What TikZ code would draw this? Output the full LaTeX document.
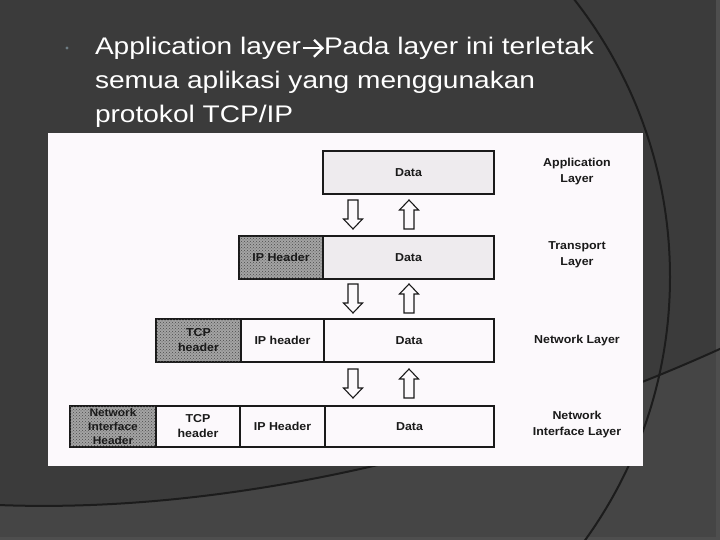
\documentclass[tikz,border=0pt]{standalone}
\usepackage{fontspec}
\setmainfont{Liberation Sans}
\newfontfamily\titlefont[FakeStretch=1.17]{Liberation Sans}
\newfontfamily\diafont[FakeStretch=1.08]{Liberation Sans}
\usetikzlibrary{patterns}
\definecolor{bg}{HTML}{3B3B3B}
\definecolor{bglow}{HTML}{454545}
\definecolor{edgec}{HTML}{4E4E4E}
\definecolor{arcc}{HTML}{1C1C1C}
\definecolor{paper}{HTML}{FCF9FC}
\definecolor{ink}{HTML}{1A1A1A}
\definecolor{hatchc}{HTML}{A4A4A4}
\definecolor{grayfill}{HTML}{EEEBEE}
\definecolor{bulletc}{HTML}{6E7C84}
\tikzset{
  cell/.style={draw=ink, line width=1.2pt, inner sep=0pt, outer sep=0pt, anchor=north west,
    minimum height=43pt, align=center, text=ink,
    font=\diafont\bfseries\fontsize{11.5}{15}\selectfont},
  plaincell/.style={cell, fill=paper},
  graycell/.style={cell, fill=grayfill},
  hatchcell/.style={cell, fill=hatchc, postaction={pattern=crosshatch dots, pattern color=black!70}},
  layerlabel/.style={align=center, text=ink, inner sep=0pt,
    font=\diafont\bfseries\fontsize{11.5}{16}\selectfont},
  titleline/.style={anchor=base west, inner sep=0pt, outer sep=0pt, text=white,
    font=\titlefont\fontsize{24}{33.5}\selectfont},
  titlearrow/.style={draw=white, line width=2.2pt, line cap=butt, line join=miter},
  flowarrow/.style={draw=ink, line width=1.1pt, fill=paper, line join=miter}
}
\newcommand\arrdown[3]{% center x, top, bottom
  \draw[flowarrow] (#1-5,#2) -- (#1+5,#2) -- (#1+5,#3-10) -- (#1+9.5,#3-10) -- (#1,#3)
    -- (#1-9.5,#3-10) -- (#1-5,#3-10) -- cycle;}
\newcommand\arrup[3]{% center x, top, bottom
  \draw[flowarrow] (#1-5,#3) -- (#1+5,#3) -- (#1+5,#2+10) -- (#1+9.5,#2+10) -- (#1,#2)
    -- (#1-9.5,#2+10) -- (#1-5,#2+10) -- cycle;}
\begin{document}
\begin{tikzpicture}[x=1pt,y=-1pt]
\useasboundingbox (0,0) rectangle (720,540);
\clip (0,0) rectangle (720,540);
% background
\fill[bg] (0,0) rectangle (720,540);
\fill[bglow] (-2,505) .. controls (250,515) and (520,440) .. (722,348) -- (722,542) -- (-2,542) -- cycle;
\fill[edgec] (716,0) rectangle (720,540);
\fill[edgec] (0,537) rectangle (720,540);
\draw[arcc, line width=2pt] (-2,505) .. controls (250,515) and (520,440) .. (722,348);
\draw[arcc, line width=2pt] (220,277) circle[radius=450pt];
% title
\fill[bulletc] (67,48) circle[radius=1.6pt];
\node[titleline] (t1a) at (95,55) {Application layer};
\node[titleline] (t1b) at (324,55) {Pada layer ini terletak};
\coordinate (ta) at ([shift={(1.5,-6.7)}]t1a.base east);
\coordinate (tb) at ([shift={(-1.5,-6.7)}]t1b.base west);
\draw[titlearrow] (ta) -- (tb);
\draw[titlearrow] ([shift={(-8.5,-8.5)}]tb) -- (tb) -- ([shift={(-8.5,8.5)}]tb);
\node[titleline] (t2) at (95,89) {semua aplikasi yang menggunakan};
\node[titleline] (t3) at (95,122.5) {protokol TCP/IP};
% scanned figure
\fill[paper] (48,133) rectangle (643,466);
% row 1
\node[graycell, minimum width=171pt] (d1) at (323,151) {Data};
% row 2
\node[hatchcell, minimum width=84pt] (h2ip) at (239,236) {IP Header};
\node[graycell, minimum width=171pt] (d2) at (323,236) {Data};
% row 3
\node[hatchcell, minimum width=85pt] (h3tcp) at (156,319) {TCP\\header};
\node[plaincell, minimum width=83pt] (h3ip) at (241,319) {IP header};
\node[plaincell, minimum width=170pt] (d3) at (324,319) {Data};
% row 4
\node[hatchcell, minimum width=86pt, minimum height=41pt, font=\diafont\bfseries\fontsize{11}{14}\selectfont] (h4ni) at (70,406) {Network\\Interface\\Header};
\node[plaincell, minimum width=84pt, minimum height=41pt] (h4tcp) at (156,406) {TCP\\header};
\node[plaincell, minimum width=85pt, minimum height=41pt] (h4ip) at (240,406) {IP Header};
\node[plaincell, minimum width=169pt, minimum height=41pt] (d4) at (325,406) {Data};
% arrows
\arrdown{353}{200}{229}
\arrdown{353}{284}{313}
\arrdown{353}{369}{398}
\arrup{409}{200}{229}
\arrup{409}{284}{313}
\arrup{409}{369}{398}
% layer labels
\node[layerlabel] (l1) at (577,172) {Application\\Layer};
\node[layerlabel] (l2) at (577,255) {Transport\\Layer};
\node[layerlabel] (l3) at (577,341) {Network Layer};
\node[layerlabel] (l4) at (577,425) {Network\\Interface Layer};
\end{tikzpicture}
\end{document}
